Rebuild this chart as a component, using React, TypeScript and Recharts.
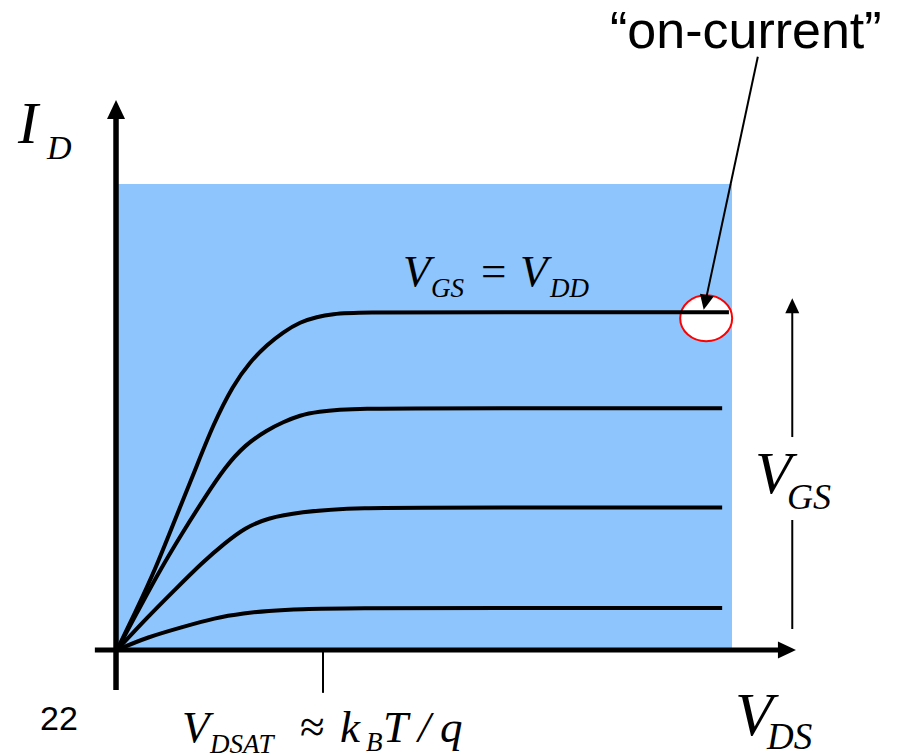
import React from "react";
import { LineChart, Line, XAxis, YAxis, ReferenceArea, ReferenceLine, ReferenceDot } from "recharts";

// Schematic MOSFET output characteristics: I_D vs V_DS for four gate voltages.
// Units are arbitrary (normalised), x in [0, 10], y in [0, 10].
const curveVgs1 = [
  { vds: 0, id: 0 }, { vds: 0.5, id: 0.28 }, { vds: 1.06, id: 0.49 }, { vds: 1.59, id: 0.69 },
  { vds: 2.08, id: 0.79 }, { vds: 2.44, id: 0.84 }, { vds: 2.98, id: 0.88 }, { vds: 3.79, id: 0.9 },
  { vds: 6.0, id: 0.9 }, { vds: 9.84, id: 0.9 },
];
const curveVgs2 = [
  { vds: 0, id: 0 }, { vds: 0.5, id: 0.71 }, { vds: 0.94, id: 1.29 }, { vds: 1.38, id: 1.87 },
  { vds: 1.76, id: 2.3 }, { vds: 2.08, id: 2.62 }, { vds: 2.44, id: 2.83 }, { vds: 2.98, id: 2.96 },
  { vds: 3.79, id: 3.06 }, { vds: 6.0, id: 3.06 }, { vds: 9.84, id: 3.06 },
];
const curveVgs3 = [
  { vds: 0, id: 0 }, { vds: 0.29, id: 0.71 }, { vds: 0.67, id: 1.65 }, { vds: 1.06, id: 2.51 },
  { vds: 1.43, id: 3.28 }, { vds: 1.76, id: 3.93 }, { vds: 2.08, id: 4.4 }, { vds: 2.44, id: 4.72 },
  { vds: 2.7, id: 4.89 }, { vds: 2.98, id: 5.04 }, { vds: 3.25, id: 5.11 }, { vds: 3.79, id: 5.19 },
  { vds: 6.0, id: 5.19 }, { vds: 9.84, id: 5.19 },
];
const curveVdd = [
  { vds: 0, id: 0 }, { vds: 0.29, id: 0.79 }, { vds: 0.62, id: 1.72 }, { vds: 0.94, id: 2.79 },
  { vds: 1.27, id: 3.86 }, { vds: 1.56, id: 4.83 }, { vds: 1.89, id: 5.69 }, { vds: 2.16, id: 6.18 },
  { vds: 2.44, id: 6.55 }, { vds: 2.7, id: 6.82 }, { vds: 2.98, id: 7.04 }, { vds: 3.25, id: 7.15 },
  { vds: 3.51, id: 7.21 }, { vds: 3.84, id: 7.25 }, { vds: 6.0, id: 7.25 }, { vds: 9.95, id: 7.25 },
];
const curves = [curveVgs1, curveVgs2, curveVgs3, curveVdd];

// Saturation voltage tick position and the on-current point
const vdsatTick = 3.35;
const onCurrent = { vds: 9.58, id: 7.12 };

const W = 899;
const H = 755;
const serif = "'Liberation Serif', 'Times New Roman', serif";
const sans = "'Liberation Sans', Arial, sans-serif";

type ArrowProps = {
  x1?: number; y1?: number; x2?: number; y2?: number;
  w: number; head: number; half: number; noHead?: boolean;
};

// Straight line with a filled triangular head at its (x2, y2) end
const Arrow = ({ x1 = 0, y1 = 0, x2 = 0, y2 = 0, w, head, half, noHead }: ArrowProps) => {
  const dx = x2 - x1;
  const dy = y2 - y1;
  const len = Math.hypot(dx, dy) || 1;
  const ux = dx / len;
  const uy = dy / len;
  if (noHead) {
    return <line x1={x1} y1={y1} x2={x2} y2={y2} stroke="#000" strokeWidth={w} />;
  }
  const bx = x2 - ux * head;
  const by = y2 - uy * head;
  const pts = `${x2},${y2} ${bx - uy * half},${by + ux * half} ${bx + uy * half},${by - ux * half}`;
  return (
    <g>
      <line x1={x1} y1={y1} x2={bx + ux * 1} y2={by + uy * 1} stroke="#000" strokeWidth={w} />
      <polygon points={pts} fill="#000" />
    </g>
  );
};

const OnCurrentRing = ({ cx = 0, cy = 0 }: { cx?: number; cy?: number }) => (
  <ellipse cx={cx} cy={cy} rx={26} ry={23} fill="#fff" stroke="#ff0000" strokeWidth={2} />
);

const it = { fontFamily: serif, fontStyle: "italic" as const };

export default function App() {
  return (
    <div style={{ position: "absolute", left: 0, top: 0, width: W, height: H, background: "#fff" }}>
      <LineChart
        width={W}
        height={H}
        margin={{ top: 184, right: 167, bottom: 105, left: 117 }}
      >
        <XAxis dataKey="vds" type="number" domain={[0, 10]} hide allowDataOverflow />
        <YAxis dataKey="id" type="number" domain={[0, 10]} hide allowDataOverflow />

        <ReferenceArea x1={0} x2={10} y1={0} y2={10} fill="#8ec5fc" fillOpacity={1} stroke="none" ifOverflow="visible" zIndex={50} />

        <ReferenceDot
          x={onCurrent.vds}
          y={onCurrent.id}
          ifOverflow="visible"
          zIndex={350}
          shape={(p: any) => <OnCurrentRing cx={p.cx} cy={p.cy} />}
        />

        {curves.map((c, i) => (
          <Line
            key={i}
            data={c}
            dataKey="id"
            type="basis"
            stroke="#000"
            strokeWidth={4}
            dot={false}
            activeDot={false}
            isAnimationActive={false}
          />
        ))}

        {/* I_D axis */}
        <ReferenceLine
          segment={[{ x: -0.016, y: -0.86 }, { x: -0.016, y: 11.8 }]}
          ifOverflow="visible"
          zIndex={700}
          shape={(p: any) => <Arrow {...p} w={5.5} head={19} half={9} />}
        />
        {/* V_DS axis */}
        <ReferenceLine
          segment={[{ x: -0.36, y: 0 }, { x: 11.04, y: 0 }]}
          ifOverflow="visible"
          zIndex={700}
          shape={(p: any) => <Arrow {...p} w={5} head={18} half={8.5} />}
        />
        {/* V_DSAT tick */}
        <ReferenceLine
          segment={[{ x: vdsatTick, y: 0 }, { x: vdsatTick, y: -0.92 }]}
          ifOverflow="visible"
          zIndex={700}
          shape={(p: any) => <Arrow {...p} w={2} head={0} half={0} noHead />}
        />
        {/* increasing V_GS arrow */}
        <ReferenceLine
          segment={[{ x: 10.98, y: 0.45 }, { x: 10.98, y: 2.79 }]}
          ifOverflow="visible"
          zIndex={700}
          shape={(p: any) => <Arrow {...p} w={2} head={0} half={0} noHead />}
        />
        <ReferenceLine
          segment={[{ x: 10.98, y: 4.57 }, { x: 10.98, y: 7.55 }]}
          ifOverflow="visible"
          zIndex={700}
          shape={(p: any) => <Arrow {...p} w={2} head={15} half={7} />}
        />
        {/* pointer to the on-current */}
        <ReferenceLine
          segment={[{ x: 10.42, y: 12.73 }, { x: 9.54, y: 7.3 }]}
          ifOverflow="visible"
          zIndex={700}
          shape={(p: any) => <Arrow {...p} w={2} head={15} half={7} />}
        />
      </LineChart>

      {/* text labels */}
      <svg width={W} height={H} style={{ position: "absolute", left: 0, top: 0, pointerEvents: "none" }}>
        <text x={18} y={143} {...it} fontSize={60}>I</text>
        <text x={47} y={159} {...it} fontSize={34}>D</text>

        <text x={403} y={286} {...it} fontSize={45}>V</text>
        <text x={431} y={297} {...it} fontSize={27}>GS</text>
        <text x={481} y={286} fontFamily={serif} fontSize={45}>=</text>
        <text x={520} y={286} {...it} fontSize={45}>V</text>
        <text x={550} y={297} {...it} fontSize={27}>DD</text>

        <text x={610} y={48} fontFamily={sans} fontSize={52}>“on-current”</text>

        <text x={755} y={493} {...it} fontSize={60}>V</text>
        <text x={787} y={509} {...it} fontSize={36}>GS</text>

        <text x={735} y={735} {...it} fontSize={62}>V</text>
        <text x={767} y={749} {...it} fontSize={37}>DS</text>

        <text x={40} y={730} fontFamily={sans} fontSize={34}>22</text>

        <text x={182} y={742} {...it} fontSize={45}>V</text>
        <text x={210} y={753} {...it} fontSize={27}>DSAT</text>
        <text x={300} y={742} fontFamily={serif} fontSize={45}>≈</text>
        <text x={340} y={742} {...it} fontSize={45}>k</text>
        <text x={366} y={751} {...it} fontSize={27}>B</text>
        <text x={383} y={742} {...it} fontSize={45}>T</text>
        <text x={418} y={742} {...it} fontSize={45}>/</text>
        <text x={440} y={742} {...it} fontSize={45}>q</text>
      </svg>
    </div>
  );
}
